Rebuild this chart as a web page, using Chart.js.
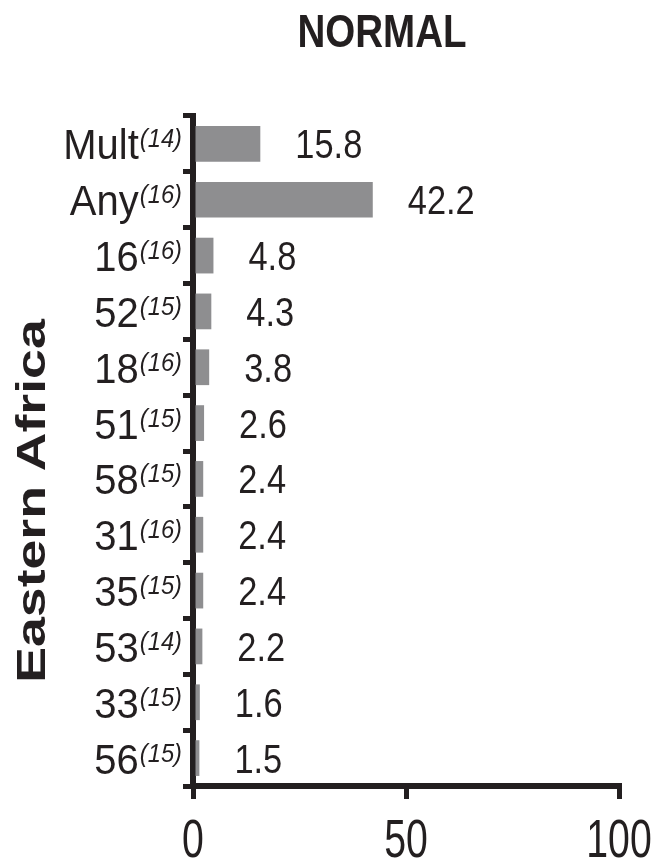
<!DOCTYPE html>
<html>
<head>
<meta charset="utf-8">
<title>NORMAL – Eastern Africa</title>
<script src="https://cdn.jsdelivr.net/npm/chart.js@4"></script>
<style>
  html, body { margin: 0; padding: 0; background: #ffffff; }
  #wrap { width: 662px; height: 859px; position: relative; }
</style>
</head>
<body>
<div id="wrap"><canvas id="c" width="662" height="859"></canvas></div>
<script>
// ---- data ----
const chartTitle = "NORMAL";
const regionLabel = "Eastern Africa";
const categories = ["Mult", "Any", "16", "52", "18", "51", "58", "31", "35", "53", "33", "56"];
const sampleRefs = ["14", "16", "16", "15", "16", "15", "15", "16", "15", "14", "15", "15"];
const values = [15.8, 42.2, 4.8, 4.3, 3.8, 2.6, 2.4, 2.4, 2.4, 2.2, 1.6, 1.5];
const xTicks = [0, 50, 100];

const INK = "#231f20";
const BAR = "#8e8e90";
const FONT = '"Liberation Sans", Arial, Helvetica, sans-serif';

// draw text with horizontal scaling (reference glyphs are tall & narrow)
function drawText(ctx, text, x, y, font, sx, align) {
  ctx.save();
  ctx.font = font;
  ctx.textBaseline = "alphabetic";
  ctx.textAlign = "left";
  const w = ctx.measureText(text).width * sx;
  let left = x;
  if (align === "center") left = x - w / 2;
  else if (align === "right") left = x - w;
  ctx.translate(left, y);
  ctx.scale(sx, 1);
  ctx.fillStyle = INK;
  ctx.fillText(text, 0, 0);
  ctx.restore();
  return w;
}
function textWidth(ctx, text, font, sx) {
  ctx.save(); ctx.font = font;
  const w = ctx.measureText(text).width * sx;
  ctx.restore(); return w;
}

const textPlugin = {
  id: "textPlugin",
  afterDraw(chart) {
    const ctx = chart.ctx;
    const xs = chart.scales.x, ys = chart.scales.y;

    // title
    drawText(ctx, chartTitle, 382, 47, "bold 47px " + FONT, 0.82, "center");

    // rotated region label
    ctx.save();
    ctx.translate(45, 501);
    ctx.rotate(-Math.PI / 2);
    ctx.scale(1.34, 1);
    ctx.font = "bold 40px " + FONT;
    ctx.textAlign = "center";
    ctx.textBaseline = "alphabetic";
    ctx.fillStyle = INK;
    ctx.fillText(regionLabel, 0, 0);
    ctx.restore();

    // category labels with superscript sample refs
    const mainFont = "43px " + FONT, supFont = "italic 25px " + FONT;
    categories.forEach((cat, i) => {
      const cy = ys.getPixelForValue(i);
      const base = cy + 15.5;
      const supTxt = "(" + sampleRefs[i] + ")";
      const right = 182;
      const supW = textWidth(ctx, supTxt, supFont, 0.95);
      drawText(ctx, supTxt, right, base - 12, supFont, 0.95, "right");
      drawText(ctx, cat, right - supW - 1, base, mainFont, 0.93, "right");
    });

    // value labels
    const valFont = "40px " + FONT;
    values.forEach((v, i) => {
      const cy = ys.getPixelForValue(i);
      const xEnd = xs.getPixelForValue(v);
      drawText(ctx, v.toFixed(1), xEnd + 35, cy + 14.5, valFont, 0.86, "left");
    });

    // x tick labels
    xs.ticks.forEach(t => {
      const px = xs.getPixelForValue(t.value);
      drawText(ctx, String(t.value), px, 857, "53px " + FONT, 0.74, "center");
    });
  }
};

new Chart(document.getElementById("c"), {
  type: "bar",
  data: {
    labels: categories,
    datasets: [{
      data: values,
      backgroundColor: BAR,
      borderWidth: 0,
      barPercentage: 0.64,
      categoryPercentage: 1.0
    }]
  },
  options: {
    indexAxis: "y",
    responsive: false,
    animation: false,
    devicePixelRatio: 1,
    layout: { padding: { top: 116, right: 43, bottom: 0, left: 0 } },
    plugins: { legend: { display: false }, title: { display: false }, tooltip: { enabled: false } },
    scales: {
      x: {
        type: "linear",
        min: xTicks[0],
        max: xTicks[xTicks.length - 1],
        afterBuildTicks: (s) => { s.ticks = xTicks.map(v => ({ value: v })); },
        ticks: { display: false },
        grid: { drawOnChartArea: false, drawTicks: true, tickLength: 13, tickWidth: 5, tickColor: INK, color: INK, lineWidth: 5 },
        border: { display: true, color: INK, width: 6 },
        afterFit: (s) => { s.height = 73; }
      },
      y: {
        type: "category",
        offset: true,
        ticks: { display: false },
        grid: { offset: true, drawOnChartArea: false, drawTicks: true, tickLength: 10, tickWidth: 5, tickColor: INK, color: INK, lineWidth: 5 },
        border: { display: true, color: INK, width: 6 },
        afterFit: (s) => { s.width = 193; }
      }
    }
  },
  plugins: [textPlugin]
});
</script>
</body>
</html>
